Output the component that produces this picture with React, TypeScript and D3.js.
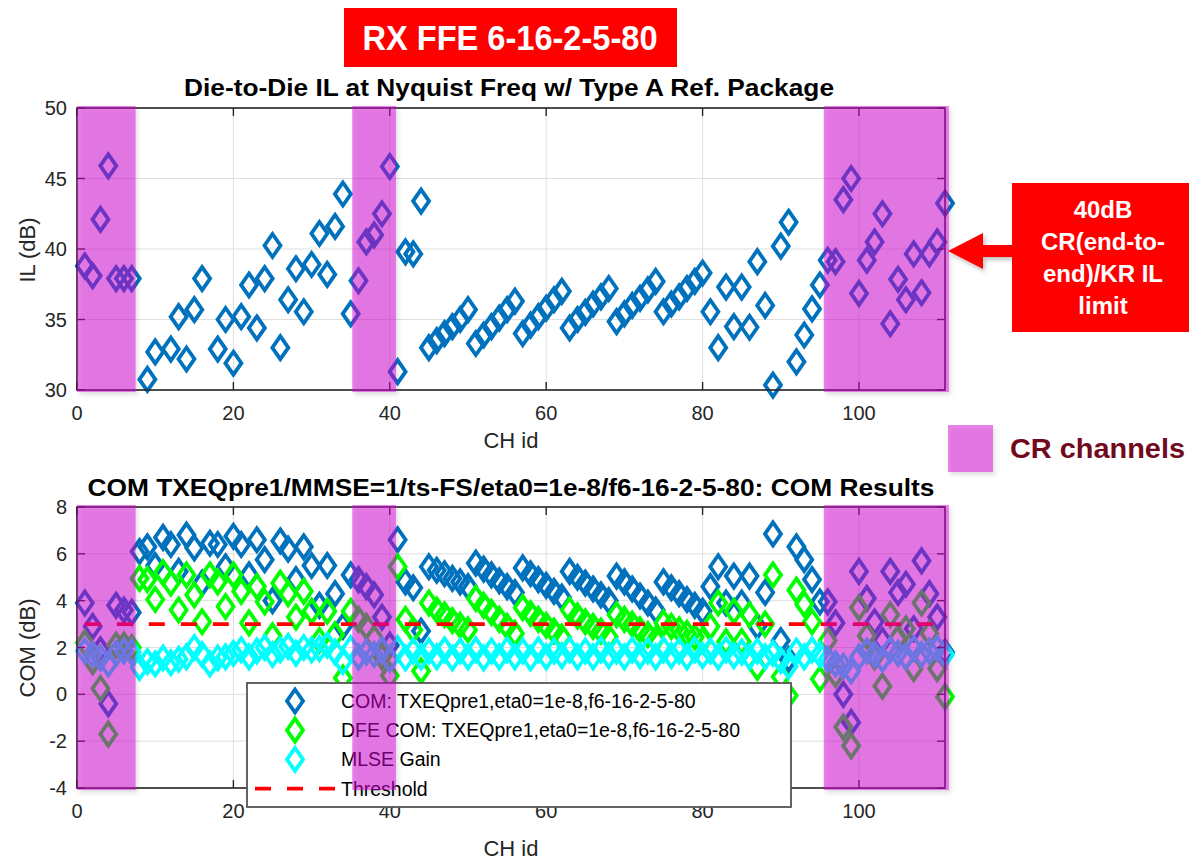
import React from "react";
import * as d3 from "d3";

// channel ids run 1..111, one value per channel (null = off scale)
const IL = [
  38.8, 38.1, 42.1, 45.9, 37.9, 37.9, 37.9, null, 30.75, 32.7,
  null, 32.9, 35.2, 32.2, 35.7, 37.9, null, 32.9, 35.0, 31.9,
  35.2, 37.45, 34.4, 37.9, 40.25, 33.0, 36.4, 38.6, 35.55, 38.9,
  41.1, 38.2, 41.6, 43.9, 35.4, 37.75, 40.5, 41.0, 42.5, 45.85,
  31.3, 39.8, 39.65, 43.4, 33.0, 33.5, 34.0, 34.5, 35.0, 35.7,
  33.3, 33.9, 34.5, 35.1, 35.7, 36.3, 34.0, 34.6, 35.2, 35.8,
  36.4, 37.0, 34.4, 35.0, 35.5, 36.1, 36.6, 37.2, 34.85, 35.4,
  36.0, 36.5, 37.1, 37.7, 35.55, 36.1, 36.6, 37.2, 37.7, 38.3,
  35.55, 33.0, 37.3, 34.5, 37.3, 34.45, 39.1, 36.0, 30.35, 40.2,
  41.9, 32.0, 33.9, 35.75, 37.45, 39.2, 39.1, 43.5, 45.0, 36.85,
  39.2, 40.5, 42.5, 34.7, 37.85, 36.4, 39.65, 36.9, 39.65, 40.5,
  43.25,
];

const COM = [
  3.9, 2.9, 1.9, -0.4, 3.8, 3.6, 3.5, 6.1, 6.3, 5.5,
  6.7, 6.4, 5.25, 6.8, 6.25, 4.75, 6.45, 6.4, 5.45, 6.75,
  6.4, 5.1, 6.6, 5.75, 4.0, 6.55, 6.2, 4.9, 6.3, 5.5,
  3.8, 5.5, 4.3, 2.9, 5.1, 4.9, 4.6, 4.25, 3.3, 2.1,
  6.6, 4.8, 4.55, 2.7, 5.45, 5.3, 5.15, 4.95, 4.8, 4.6,
  5.6, 5.35, 5.1, 4.85, 4.6, 4.35, 5.4, 5.15, 4.9, 4.65,
  4.4, 4.15, 5.25, 5.0, 4.75, 4.5, 4.25, 4.0, 5.05, 4.8,
  4.5, 4.2, 3.9, 3.6, 4.8, 4.55, 4.3, 4.05, 3.8, 3.55,
  4.6, 5.45, 3.9, 5.05, 3.9, 5.05, 2.9, 4.35, 6.85, 2.3,
  1.5, 6.3, 5.75, 4.9, 3.95, 3.95, 3.05, 0.0, -1.2, 5.25,
  4.1, 3.1, 2.3, 5.25, 4.35, 4.7, 2.8, 5.7, 4.3, 3.3,
  1.8,
];

const DFE = [
  2.2, 1.4, 0.25, -1.7, 2.1, 2.1, 2.0, 4.95, 4.9, 4.05,
  5.2, 4.75, 3.6, 5.1, 4.25, 3.1, 5.1, 4.8, 3.75, 5.1,
  4.4, 3.05, 4.6, 3.95, 2.5, 4.75, 4.3, 3.3, 4.4, 3.55,
  2.3, 3.55, 2.55, 0.7, 3.55, 3.2, 2.9, 2.4, 1.6, 0.8,
  5.45, 3.2, 2.75, 1.0, 3.9, 3.6, 3.4, 3.15, 2.95, 2.75,
  4.1, 3.8, 3.5, 3.2, 2.9, 2.6, 3.7, 3.45, 3.2, 2.95,
  2.7, 2.45, 3.6, 3.35, 3.1, 2.9, 2.7, 2.45, 3.4, 3.2,
  3.0, 2.75, 2.55, 2.35, 3.05, 2.9, 2.75, 2.6, 2.45, 2.3,
  2.9, 3.9, 2.25, 3.55, 2.25, 3.4, 1.15, 3.0, 5.1, 0.75,
  -0.05, 4.45, 3.85, 3.1, 0.65, 2.3, 0.85, -1.4, -2.2, 3.7,
  2.5, 1.6, 0.35, 3.4, 2.4, 2.8, 1.1, 3.9, 2.6, 1.1,
  -0.1,
];

const MLSE = [
  1.85, 1.7, 1.55, 1.3, 1.75, 1.85, 1.8, 1.15, 1.4, 1.3,
  1.55, 1.35, 1.5, 1.6, 2.0, 1.7, 1.3, 1.55, 1.6, 1.75,
  1.9, 1.6, 1.85, 2.0, 1.7, 1.9, 2.05, 1.75, 2.0, 1.9,
  1.95, 2.1, 1.8, 1.4, 1.95, 1.6, 1.8, 1.7, 1.9, 1.5,
  1.95, 1.55, 1.85, 1.6, 1.85, 1.6, 1.9, 1.55, 1.85, 1.6,
  1.9, 1.55, 1.85, 1.6, 1.9, 1.6, 1.85, 1.55, 1.9, 1.6,
  1.85, 1.65, 1.9, 1.6, 1.85, 1.6, 1.9, 1.65, 1.85, 1.6,
  1.9, 1.65, 1.85, 1.6, 1.9, 1.65, 1.85, 1.6, 1.9, 1.65,
  1.85, 1.6, 1.9, 1.65, 1.8, 1.6, 1.85, 1.6, 1.75, 1.45,
  1.2, 1.85, 1.6, 1.9, 1.7, 1.5, 1.3, 1.2, 1.0, 1.6,
  1.85, 1.7, 1.5, 1.9, 1.75, 1.6, 1.95, 1.7, 1.85, 1.95,
  1.7,
];

const IL_LIMIT = 40;
const COM_THRESHOLD = 3;
const CR_RANGES = [
  [0, 7.5],
  [35.2, 40.8],
  [95.5, 111.5],
];
const X_TICKS = [0, 20, 40, 60, 80, 100];
const IL_TICKS = [30, 35, 40, 45, 50];
const COM_TICKS = [-4, -2, 0, 2, 4, 6, 8];
const LEGEND = [
  "COM: TXEQpre1,eta0=1e-8,f6-16-2-5-80",
  "DFE COM: TXEQpre1,eta0=1e-8,f6-16-2-5-80",
  "MLSE Gain",
  "Threshold",
];

const W = 1189;
const H = 861;
const FONT = "'Liberation Sans', Arial, Helvetica, sans-serif";
const NARROW = "'Liberation Sans Narrow', 'Liberation Sans', Arial, sans-serif";
const BLUE = "#0072BD";
const GREEN = "#00FF00";
const CYAN = "#00FFFF";
const SHADE = "#D400D4";
const AXIS = "#262626";

const x = d3.scaleLinear().domain([0, 111]).range([77, 945]);
const yTop = d3.scaleLinear().domain([30, 50]).range([390, 108]);
const yBot = d3.scaleLinear().domain([-4, 8]).range([788, 507]);

const diamond = (cx, cy, hw = 8, hh = 11.5) =>
  `M${cx},${cy - hh}L${cx + hw},${cy}L${cx},${cy + hh}L${cx - hw},${cy}Z`;

const Markers = ({ values, y, color }) => (
  <g fill="none" stroke={color} strokeWidth={3.8} strokeLinejoin="miter">
    {values.map((v, i) =>
      v == null ? null : <path key={i} d={diamond(x(i + 1), y(v))} />
    )}
  </g>
);

const Frame = ({ y, ticks }) => {
  const [x0, x1] = x.range();
  const [yb, yt] = y.range();
  return (
    <g>
      <rect x={x0} y={yt} width={x1 - x0} height={yb - yt} fill="none" stroke={AXIS} strokeWidth={1.6} />
      {X_TICKS.map((t) => (
        <g key={"x" + t} stroke={AXIS} strokeWidth={1.4}>
          <line x1={x(t)} x2={x(t)} y1={yb} y2={yb - 8} />
          <line x1={x(t)} x2={x(t)} y1={yt} y2={yt + 8} />
        </g>
      ))}
      {ticks.map((t) => (
        <g key={"y" + t} stroke={AXIS} strokeWidth={1.4}>
          <line x1={x0} x2={x0 + 8} y1={y(t)} y2={y(t)} />
          <line x1={x1} x2={x1 - 8} y1={y(t)} y2={y(t)} />
        </g>
      ))}
      {X_TICKS.map((t) => (
        <text key={"xl" + t} x={x(t)} y={yb + 30} textAnchor="middle" fontSize={20} fill={AXIS}>
          {t}
        </text>
      ))}
      {ticks.map((t) => (
        <text key={"yl" + t} x={67} y={y(t) + 7} textAnchor="end" fontSize={20} fill={AXIS}>
          {t}
        </text>
      ))}
    </g>
  );
};

const Grid = ({ y, ticks }) => {
  const [x0, x1] = x.range();
  const [yb, yt] = y.range();
  return (
    <g stroke="#DEDEDE" strokeWidth={1}>
      {X_TICKS.map((t) => (
        <line key={"gx" + t} x1={x(t)} x2={x(t)} y1={yb} y2={yt} />
      ))}
      {ticks.map((t) => (
        <line key={"gy" + t} x1={x0} x2={x1} y1={y(t)} y2={y(t)} />
      ))}
    </g>
  );
};

const Shades = ({ y }) => {
  const [yb, yt] = y.range();
  return (
    <g filter="url(#shadow)">
      {CR_RANGES.map(([a, b], i) => (
        <rect key={i} x={x(a)} y={yt - 2} width={x(b) - x(a)} height={yb - yt + 4} fill={SHADE} fillOpacity={0.48} />
      ))}
    </g>
  );
};

export default function App() {
  const ilLine = d3.line().x((d) => x(d[0])).y((d) => yTop(d[1]));
  const comLine = d3.line().x((d) => x(d[0])).y((d) => yBot(d[1]));

  return (
    <svg
      width={W}
      height={H}
      style={{ position: "absolute", left: 0, top: 0, background: "#fff" }}
      fontFamily={FONT}
    >
      <defs>
        <filter id="shadow" x="-10%" y="-10%" width="130%" height="140%">
          <feDropShadow dx={2} dy={3} stdDeviation={2} floodColor="#000" floodOpacity={0.25} />
        </filter>
      </defs>
      <rect width={W} height={H} fill="#fff" />

      {/* header */}
      <rect x={344} y={8} width={333} height={59} fill="#FF0000" />
      <text x={510} y={50} textAnchor="middle" fontFamily={NARROW} fontWeight="bold" fontSize={35} fill="#fff" textLength={295} lengthAdjust="spacingAndGlyphs">
        RX FFE 6-16-2-5-80
      </text>

      {/* top panel */}
      <text x={509} y={96} textAnchor="middle" fontFamily={NARROW} fontWeight="bold" fontSize={23} fill="#000" textLength={650} lengthAdjust="spacingAndGlyphs">
        Die-to-Die IL at Nyquist Freq w/ Type A Ref. Package
      </text>
      <Grid y={yTop} ticks={IL_TICKS} />
      <Markers values={IL} y={yTop} color={BLUE} />
      <path
        d={ilLine([[0, IL_LIMIT], [111, IL_LIMIT]])}
        stroke="#C00000"
        strokeWidth={5}
        strokeDasharray="17 5"
        fill="none"
        filter="url(#shadow)"
      />
      <Frame y={yTop} ticks={IL_TICKS} />
      <text x={511} y={448} textAnchor="middle" fontSize={22} fill={AXIS}>CH id</text>
      <text transform="translate(35,250) rotate(-90)" textAnchor="middle" fontSize={22} fill={AXIS}>IL (dB)</text>
      <Shades y={yTop} />

      {/* bottom panel */}
      <text x={511} y={496} textAnchor="middle" fontFamily={NARROW} fontWeight="bold" fontSize={23} fill="#000" textLength={847} lengthAdjust="spacingAndGlyphs">
        COM TXEQpre1/MMSE=1/ts-FS/eta0=1e-8/f6-16-2-5-80: COM Results
      </text>
      <Grid y={yBot} ticks={COM_TICKS} />
      <Markers values={COM} y={yBot} color={BLUE} />
      <Markers values={DFE} y={yBot} color={GREEN} />
      <Markers values={MLSE} y={yBot} color={CYAN} />
      <path
        d={comLine([[1, COM_THRESHOLD], [111, COM_THRESHOLD]])}
        stroke="#FF0000"
        strokeWidth={3.8}
        strokeDasharray="16 16"
        fill="none"
      />
      <Frame y={yBot} ticks={COM_TICKS} />
      <text x={511} y={856} textAnchor="middle" fontSize={22} fill={AXIS}>CH id</text>
      <text transform="translate(35,648) rotate(-90)" textAnchor="middle" fontSize={22} fill={AXIS}>COM (dB)</text>

      {/* legend */}
      <g>
        <rect x={247} y={683} width={544} height={124} fill="#fff" stroke="#555" strokeWidth={1.8} />
        {LEGEND.map((label, i) => {
          const ly = 701 + i * 29.2;
          const col = [BLUE, GREEN, CYAN][i];
          return (
            <g key={label}>
              {i < 3 ? (
                <path d={diamond(295, ly)} fill="none" stroke={col} strokeWidth={3.8} />
              ) : (
                <line x1={255} x2={335} y1={ly} y2={ly} stroke="#FF0000" strokeWidth={3.8} strokeDasharray="16 16" />
              )}
              <text x={341} y={ly + 7} fontSize={19.5} fill="#000">{label}</text>
            </g>
          );
        })}
      </g>
      <Shades y={yBot} />

      {/* right-side annotations */}
      <g filter="url(#shadow)">
        <polygon points="948,251 983,233 983,245 1012,245 1012,257 983,257 983,269" fill="#FF0000" />
      </g>
      <rect x={1012} y={183} width={177} height={149} fill="#FF0000" />
      {["40dB", "CR(end-to-", "end)/KR IL", "limit"].map((s, i) => (
        <text key={s} x={1103} y={218 + i * 32} textAnchor="middle" fontWeight="bold" fontSize={24} fill="#fff">
          {s}
        </text>
      ))}
      <rect x={948} y={425} width={45} height={47} fill={SHADE} fillOpacity={0.48} filter="url(#shadow)" />
      <text x={1010} y={458} fontWeight="bold" fontSize={28} fill="#720A1E" textLength={175} lengthAdjust="spacingAndGlyphs">
        CR channels
      </text>
    </svg>
  );
}
